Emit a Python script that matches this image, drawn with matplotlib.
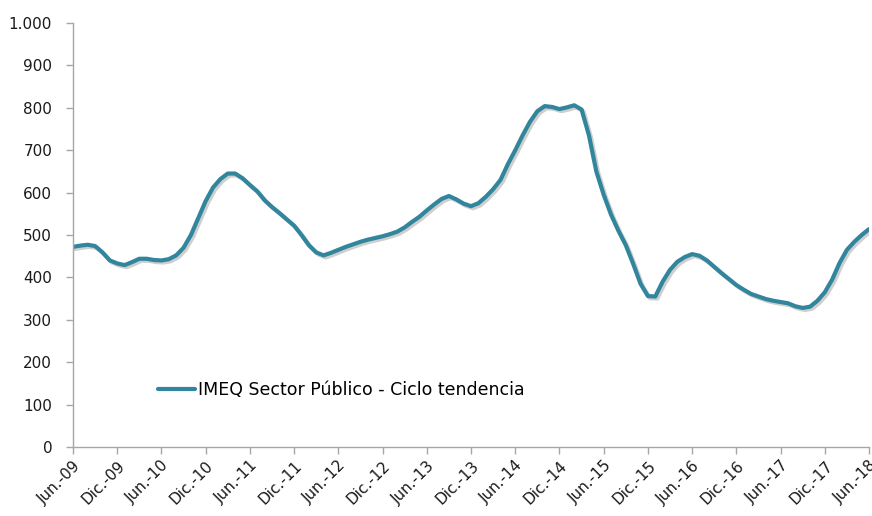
import numpy as np
import matplotlib
matplotlib.use("Agg")
import matplotlib.pyplot as plt
import matplotlib.patheffects as pe
from matplotlib.ticker import FuncFormatter

# months counted from Jun-09 (0) to Jun-18 (108)
months = np.arange(109)
imeq = [472, 475, 477, 474, 459, 440, 433, 429, 436, 444, 444, 441, 440, 443, 452,
        470, 500, 540, 580, 612, 632, 645, 645, 634, 618, 603, 582, 566, 552, 537,
        522, 500, 476, 459, 452, 458, 465, 472, 478, 484, 489, 493, 497, 502, 508,
        518, 531, 543, 558, 572, 585, 592, 584, 574, 568, 575, 590, 608, 630, 667,
        700, 735, 767, 792, 804, 802, 797, 801, 806, 796, 735, 650, 595, 548, 510,
        476, 432, 385, 356, 355, 390, 418, 437, 448, 455, 451, 440, 425, 410, 396,
        382, 371, 361, 355, 349, 345, 342, 339, 332, 328, 331, 345, 365, 395, 434,
        465, 484, 500, 514]

tick_labels = []
for yr in range(9, 19):
    tick_labels.append("Jun.-%02d" % yr)
    if yr < 18:
        tick_labels.append("Dic.-%02d" % yr)
tick_pos = np.arange(0, 109, 6)

legend_label = "IMEQ Sector Público - Ciclo tendencia"

fig = plt.figure(figsize=(8.72, 5.16), dpi=100)
ax = fig.add_axes([0.0837, 0.1337, 0.9129, 0.8217])

ax.plot(months, imeq, color="#31859c", lw=3.0, solid_capstyle="round",
        solid_joinstyle="round", label=legend_label,
        path_effects=[pe.SimpleLineShadow(offset=(1.5, -1.5), shadow_color="#888888", alpha=0.4),
                      pe.Normal()])

ax.set_xlim(0, 108)
ax.set_ylim(0, 1000)
ax.set_yticks(np.arange(0, 1001, 100))
ax.yaxis.set_major_formatter(FuncFormatter(lambda v, p: "{:,.0f}".format(v).replace(",", ".")))
ax.set_xticks(tick_pos)
ax.set_xticklabels(tick_labels, rotation=45, ha="right", rotation_mode="anchor")

for s in ["top", "right"]:
    ax.spines[s].set_visible(False)
for s in ["left", "bottom"]:
    ax.spines[s].set_color("#a6a6a6")
    ax.spines[s].set_linewidth(1.0)
ax.tick_params(axis="both", colors="#a6a6a6", labelcolor="#1a1a1a", labelsize=11, length=5, width=1.0)
ax.tick_params(axis="y", pad=10)
ax.tick_params(axis="x", pad=3)

leg = ax.legend(loc="center left", bbox_to_anchor=(0.107, 0.134), frameon=False,
                fontsize=12.5, handlelength=2.1, handletextpad=0.2, borderpad=0, borderaxespad=0)
for line in leg.get_lines():
    line.set_path_effects([])
    line.set_linewidth(3.0)

fig.savefig("out.png", dpi=100)
